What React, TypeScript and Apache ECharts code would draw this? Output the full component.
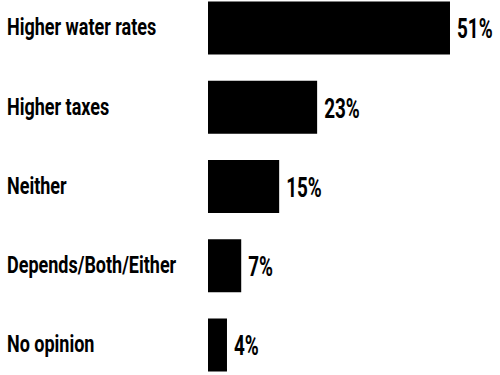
import React, { useEffect, useRef } from "react";
import * as echarts from "echarts";

const categories = ["Higher water rates", "Higher taxes", "Neither", "Depends/Both/Either", "No opinion"];
const values = [51, 23, 15, 7, 4];

const CAT_FONT = "bold 24px Roboto, 'Open Sans', sans-serif";
const VAL_FONT = "bold 27px Roboto, 'Open Sans', sans-serif";

export default function App() {
  const ref = useRef<HTMLDivElement>(null);
  useEffect(() => {
    document.body.style.margin = "0";
    const chart = echarts.init(ref.current!, null, { renderer: "svg" });
    const labelData = values.map((v, i) => [v, i]);
    chart.setOption({
      animation: false,
      backgroundColor: "#ffffff",
      grid: { left: 208, width: 284.7, top: 28, height: 317 },
      xAxis: { type: "value", min: 0, max: 60, show: false },
      yAxis: {
        type: "category",
        data: categories,
        inverse: true,
        boundaryGap: false,
        axisLine: { show: false },
        axisTick: { show: false },
        splitLine: { show: false },
        axisLabel: { show: false },
      },
      series: [
        {
          type: "bar",
          data: values,
          barWidth: 53,
          itemStyle: { color: "#000000", borderColor: "#000000", borderWidth: 2 },
        },
        {
          type: "custom",
          data: labelData,
          encode: { x: 0, y: 1 },
          clip: false,
          z: 5,
          renderItem: (params: any, api: any) => {
            const v = api.value(0);
            const idx = api.value(1);
            const end = api.coord([v, idx]);
            const start = api.coord([0, idx]);
            return {
              type: "group",
              children: [
                {
                  type: "text",
                  x: start[0] - 201,
                  y: end[1] - 1,
                  scaleX: 0.75,
                  style: {
                    text: categories[idx],
                    font: CAT_FONT,
                    fill: "#000",
                    align: "left",
                    verticalAlign: "middle",
                  },
                },
                {
                  type: "text",
                  x: end[0] + 7,
                  y: end[1] + 1,
                  scaleX: 0.7,
                  style: {
                    text: v + "%",
                    font: VAL_FONT,
                    fill: "#000",
                    align: "left",
                    verticalAlign: "middle",
                  },
                },
              ],
            };
          },
        },
      ],
    });
    return () => chart.dispose();
  }, []);
  return <div ref={ref} style={{ position: "absolute", left: 0, top: 0, width: 500, height: 375 }} />;
}
